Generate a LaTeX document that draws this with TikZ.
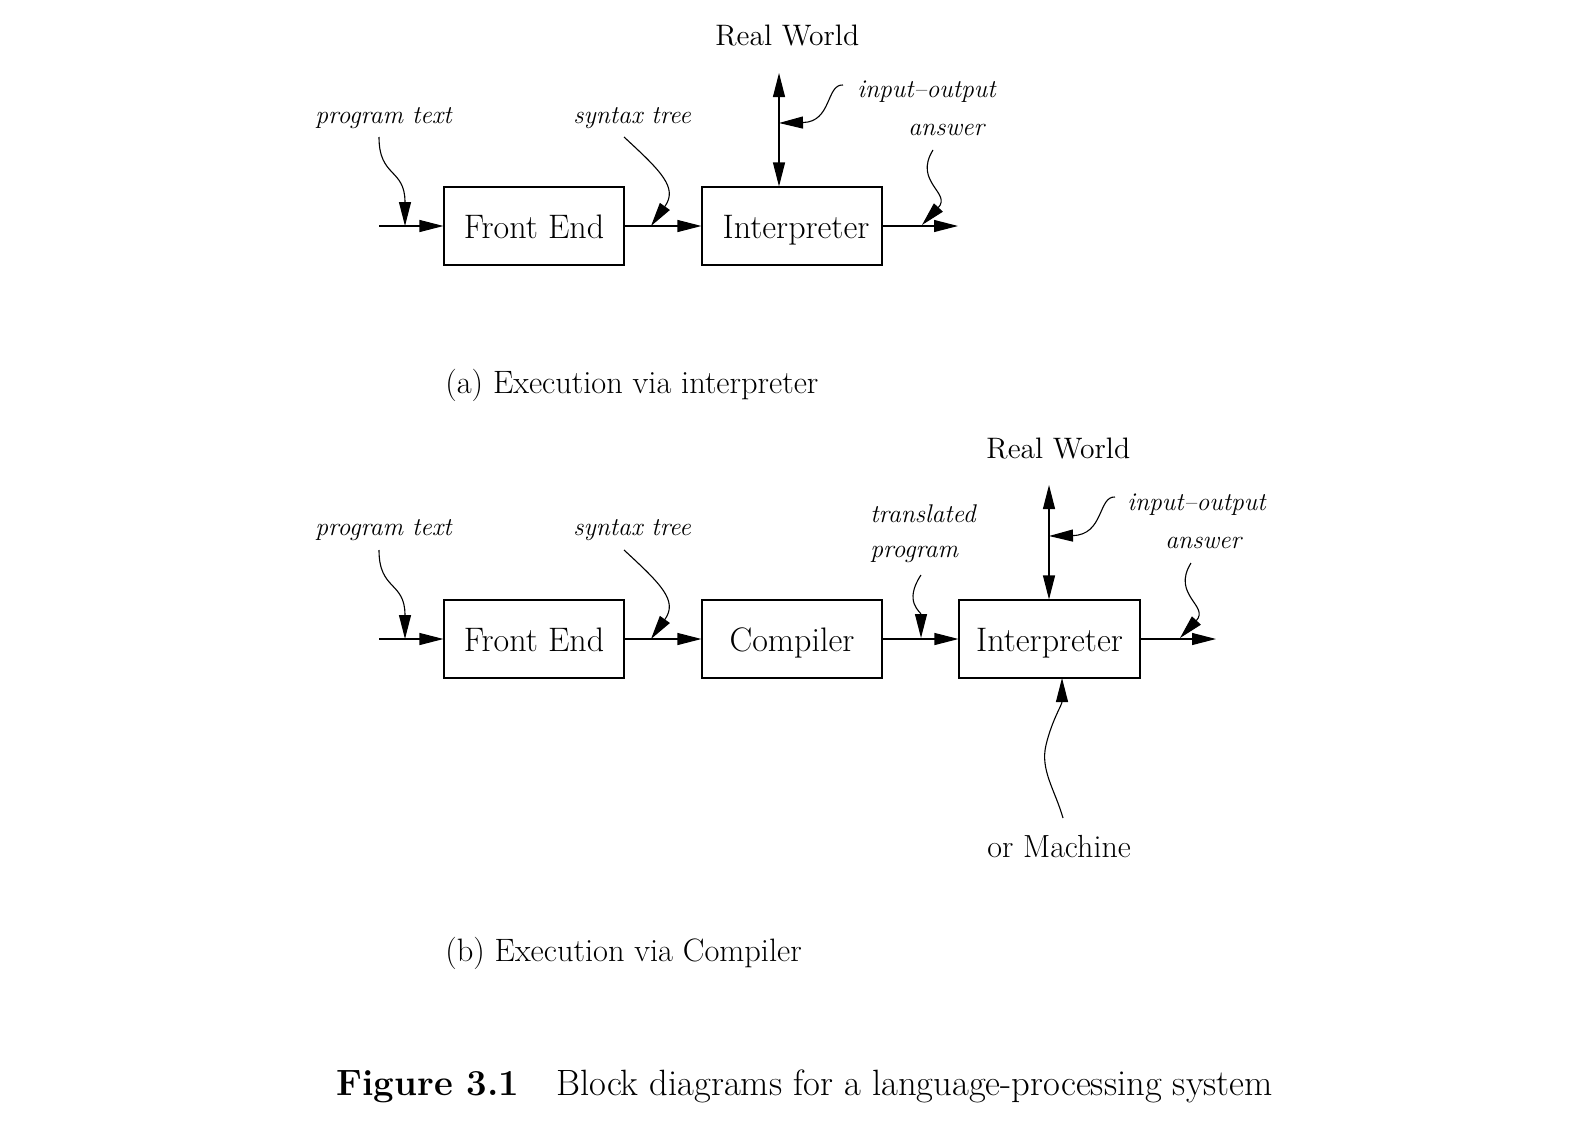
\documentclass[tikz,border=0pt]{standalone}
\usetikzlibrary{arrows.meta}
\begin{document}
\begin{tikzpicture}[x=0.5pt,y=-0.5pt,
  box/.style={draw, line width=0.55pt, minimum width=90pt, minimum height=39pt, inner sep=0pt, text height=12pt, text depth=0pt, font=\fontsize{17}{20}\selectfont},
  lbl/.style={inner sep=0pt, anchor=base west, font=\fontsize{12.8}{15}\selectfont\itshape},
  big/.style={inner sep=0pt, anchor=base west, font=\fontsize{14.8}{17}\selectfont},
  subcaption/.style={inner sep=0pt, anchor=base west, font=\fontsize{16.2}{19}\selectfont},
  conn/.style={line width=0.55pt, -{Triangle[length=12pt,width=6pt]}},
  dconn/.style={line width=0.55pt, {Triangle[length=12pt,width=6pt]}-{Triangle[length=12pt,width=6pt]}},
]
\useasboundingbox (0,0) rectangle (1596,1130);

% ---------------- (a) ----------------
\node[box] (feA) at (534,226) {Front End};
\node[box] (intA) at (792,226) {\hspace{4pt}Interpreter};

\node[lbl] (ptxtA) at (315,123) {program text};
\node[lbl] (stA) at (573,123) {syntax tree};
\node[big] (rwA) at (715,45) {Real World};
\node[lbl] (ioA) at (857,97) {input--output};
\node[lbl] (ansA) at (908,135) {answer};

\coordinate (inA) at (379,226);
\coordinate (outA) at (958,226);
\coordinate (rwtopA) at (779,73);
\coordinate (ptsA) at (379,137);
\coordinate (pttA) at (405,226);
\coordinate (stsA) at (624,137);
\coordinate (sttA) at (651,226);
\coordinate (iosA) at (843,85);
\coordinate (iotA) at (779,123);
\coordinate (ansA1) at (933,150);
\coordinate (ansA2) at (922,225);

\draw[conn] (inA) -- (feA);
\draw[conn] (feA) -- (intA);
\draw[conn] (intA) -- (outA);
\draw[dconn] (rwtopA) -- (rwtopA |- intA.north);
\draw[conn] (ptsA) .. controls (379,178) and (405,168) .. (pttA);
\draw[conn] (stsA) .. controls (662,172) and (678,188) .. (sttA);
\draw[conn] (iosA) .. controls (826,84) and (832,122) .. (iotA);
\draw[conn] (ansA1) .. controls (913,182) and (952,193) .. (ansA2);

\node[subcaption] (capA) at (445,393) {(a) Execution via interpreter};

% ---------------- (b) ----------------
\node[box] (feB) at (534,639) {Front End};
\node[box] (compB) at (792,639) {Compiler};
\node[box, minimum width=90.5pt] (intB) at (1049.5,639) {Interpreter};

\node[lbl] (ptxtB) at (315,535) {program text};
\node[lbl] (stB) at (573,535) {syntax tree};
\node[lbl] (trB) at (870,522) {translated};
\node[lbl] (prB) at (870,557) {program};
\node[big] (rwB) at (986,458) {Real World};
\node[lbl] (ioB) at (1127,510) {input--output};
\node[lbl] (ansB) at (1165,548) {answer};
\node[big, font=\fontsize{16}{19}\selectfont] (omB) at (987,857) {or Machine};

\coordinate (inB) at (379,639);
\coordinate (outB) at (1216,639);
\coordinate (rwtopB) at (1049,485);
\coordinate (ptsB) at (379,550);
\coordinate (pttB) at (405,639);
\coordinate (stsB) at (624,550);
\coordinate (sttB) at (651,639);
\coordinate (trsB) at (921,575);
\coordinate (trtB) at (921,638);
\coordinate (iosB) at (1115,497);
\coordinate (iotB) at (1049,536);
\coordinate (ansB1) at (1191,563);
\coordinate (ansB2) at (1180,638);
\coordinate (omsB) at (1063,818);
\coordinate (omtB) at (1062,678);

\draw[conn] (inB) -- (feB);
\draw[conn] (feB) -- (compB);
\draw[conn] (compB) -- (intB);
\draw[conn] (intB) -- (outB);
\draw[dconn] (rwtopB) -- (rwtopB |- intB.north);
\draw[conn] (ptsB) .. controls (379,591) and (405,581) .. (pttB);
\draw[conn] (stsB) .. controls (662,585) and (678,601) .. (sttB);
\draw[conn] (trsB) .. controls (903,602) and (921,612) .. (trtB);
\draw[conn] (iosB) .. controls (1098,496) and (1104,535) .. (iotB);
\draw[conn] (ansB1) .. controls (1171,595) and (1210,606) .. (ansB2);
\draw[conn] (omsB) .. controls (1055,790) and (1040,770) .. (1046,745) .. controls (1052,720) and (1062,705) .. (omtB);

\node[subcaption] (capB) at (445,961) {(b) Execution via Compiler};

% ---------------- figure caption ----------------
\node[inner sep=0pt, anchor=base west, font=\fontsize{18.3}{22}\selectfont] (figcap) at (336,1095)
  {{\bfseries Figure 3.1}\hspace{18.5pt}Block diagrams for a language-processing system};
\end{tikzpicture}
\end{document}
